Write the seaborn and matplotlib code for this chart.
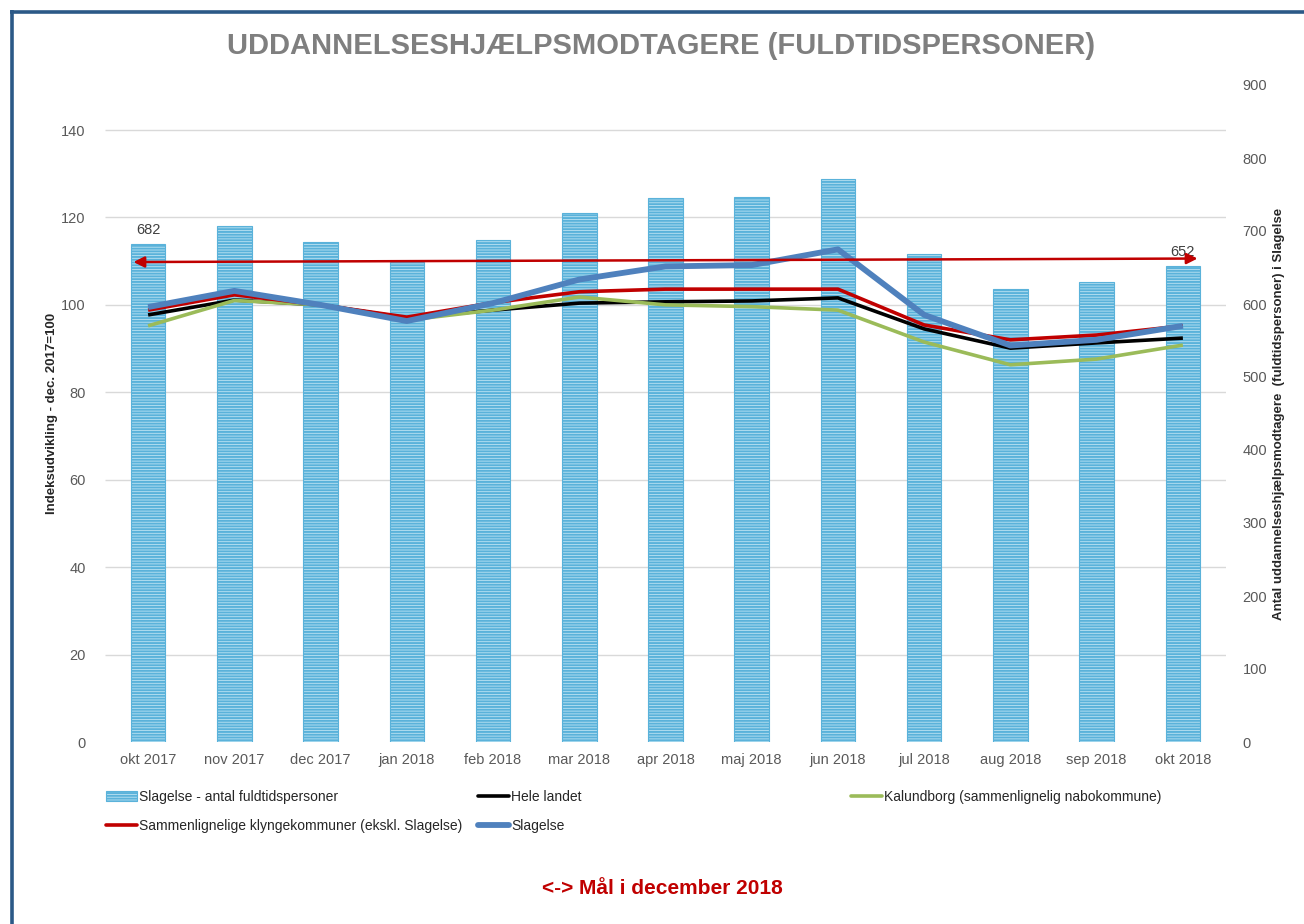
import numpy as np
import pandas as pd
import matplotlib
matplotlib.use("Agg")
import matplotlib.pyplot as plt
import matplotlib.transforms as mtransforms
from matplotlib.lines import Line2D
from matplotlib.patches import Patch
import seaborn as sns

# ---------------- data ----------------
months = ["okt 2017", "nov 2017", "dec 2017", "jan 2018", "feb 2018", "mar 2018",
          "apr 2018", "maj 2018", "jun 2018", "jul 2018", "aug 2018", "sep 2018", "okt 2018"]
slagelse_antal = [682, 707, 685, 658, 688, 725, 745, 747, 771, 669, 621, 630, 652]
hele_landet = [97.7, 101.1, 100.0, 97.0, 98.8, 100.4, 100.7, 100.9, 101.6, 94.5, 90.1, 91.3, 92.4]
kalundborg = [95.2, 101.0, 100.0, 96.5, 98.8, 101.8, 100.0, 99.6, 98.8, 91.5, 86.3, 87.6, 90.8]
klynge = [98.8, 102.3, 100.0, 97.2, 100.5, 103.0, 103.6, 103.6, 103.6, 95.4, 92.0, 93.1, 95.2]
slagelse_idx = [99.5, 103.2, 100.0, 96.3, 100.4, 105.8, 108.8, 109.1, 112.7, 97.7, 90.7, 92.0, 95.2]
left_ticks = [0, 20, 40, 60, 80, 100, 120, 140]
right_ticks = [0, 100, 200, 300, 400, 500, 600, 700, 800, 900]
goal_y = (109.8, 110.6)  # target arrow level (left axis)

title = "UDDANNELSESHJÆLPSMODTAGERE (FULDTIDSPERSONER)"
left_label = "Indeksudvikling - dec. 2017=100"
right_label = "Antal uddannelseshjælpsmodtagere  (fuldtidspersoner) i Slagelse"
names = ["Slagelse - antal fuldtidspersoner", "Hele landet",
         "Kalundborg (sammenlignelig nabokommune)",
         "Sammenlignelige klyngekommuner (ekskl. Slagelse)", "Slagelse"]
footer = "<-> Mål i december 2018"

# ---------------- style ----------------
sns.set_theme(style="white")
plt.rcParams['font.family'] = ['Liberation Sans', 'DejaVu Sans']
plt.rcParams['hatch.linewidth'] = 1.4

GRAY = "#595959"
C_BLACK = "#000000"
C_GREEN = "#9BBB59"
C_RED = "#C00000"
C_BLUE = "#4F81BD"

fig = plt.figure(figsize=(13.04, 9.24), dpi=100)
fig.patch.set_facecolor("white")

# frame lines (top + left)
fig.add_artist(Line2D([10 / 1304, 1.0], [1 - 11.5 / 924] * 2, transform=fig.transFigure,
                      color="#2B5987", lw=2.6, solid_capstyle="butt"))
fig.add_artist(Line2D([11.5 / 1304] * 2, [0.0, 1 - 10 / 924], transform=fig.transFigure,
                      color="#2B5987", lw=2.6, solid_capstyle="butt"))

ax = fig.add_axes([105 / 1304, 1 - 742 / 924, (1226 - 105) / 1304, (742 - 85) / 924])
axb = ax.twinx()
ax.set_zorder(axb.get_zorder() + 1)
ax.patch.set_visible(False)

x = np.arange(len(months))

# bars (right axis)
df_bar = pd.DataFrame({"month": months, "antal": slagelse_antal})
sns.barplot(data=df_bar, x="month", y="antal", ax=axb, width=0.4, color="#BCE3F3",
            saturation=1, zorder=2)
for p in axb.patches:
    p.set_hatch("------")
    p.set_edgecolor("#5AB2DA")
    p.set_linewidth(0.8)
bar_labels = [f"{v:.0f}" if i in (0, len(slagelse_antal) - 1) else ""
              for i, v in enumerate(slagelse_antal)]
axb.bar_label(axb.containers[0], labels=bar_labels, padding=5, fontsize=10.5,
              color="#404040")
axb.set_ylim(0, 900)
axb.set_yticks(right_ticks)
axb.set_ylabel(right_label, fontsize=9.5, fontweight="bold", color="#262626", labelpad=4)
axb.yaxis.set_label_position("right")

# gridlines from left-axis ticks, drawn behind bars
trans = mtransforms.blended_transform_factory(axb.transAxes, ax.transData)
axb.hlines(left_ticks[1:], 0, 1, transform=trans, color="#D9D9D9", lw=1.0, zorder=0)

# lines (left axis)
series = [(hele_landet, C_BLACK, 2.6), (kalundborg, C_GREEN, 2.6),
          (klynge, C_RED, 2.6), (slagelse_idx, C_BLUE, 4.2)]
for vals, col, lw in series:
    sns.lineplot(x=x, y=vals, ax=ax, color=col, lw=lw, zorder=3, legend=False)
    ax.lines[-1].set_solid_capstyle("butt")

ax.set_ylim(0, 150.3)
ax.set_yticks(left_ticks)
ax.set_xlim(-0.5, len(months) - 0.5)
axb.set_xlim(-0.5, len(months) - 0.5)
ax.set_xticks(x)
ax.set_xticklabels(months)
ax.set_ylabel(left_label, fontsize=9.5, fontweight="bold", color="#262626", labelpad=2)
ax.set_xlabel("")
axb.set_xlabel("")

# goal arrow
ax.annotate("", xy=(len(months) - 1 + 0.17, goal_y[1]), xytext=(-0.17, goal_y[0]),
            xycoords="data", textcoords="data",
            arrowprops=dict(arrowstyle="<|-|>", color=C_RED, lw=1.8,
                            mutation_scale=16, shrinkA=0, shrinkB=0), zorder=4)

for a in (ax, axb):
    for s in a.spines.values():
        s.set_visible(False)
    a.tick_params(axis="both", length=0, labelsize=10.5, labelcolor=GRAY)
ax.tick_params(axis="y", pad=14)
axb.tick_params(axis="y", pad=12)
ax.tick_params(axis="x", pad=8)
axb.tick_params(axis="x", labelbottom=False)

# title
fig.text(0.507, 1 - 46 / 924, title, ha="center", va="center", fontsize=21,
         fontweight="bold", color="#7F7F7F")

# legends (3 columns laid out like the original)
bar_handle = Patch(facecolor="#BCE3F3", edgecolor="#5AB2DA", hatch="------", lw=0.8)
h = {names[0]: bar_handle,
     names[1]: Line2D([], [], color=C_BLACK, lw=2.6),
     names[2]: Line2D([], [], color=C_GREEN, lw=2.6),
     names[3]: Line2D([], [], color=C_RED, lw=2.6),
     names[4]: Line2D([], [], color=C_BLUE, lw=4.2)}
leg_kw = dict(frameon=False, fontsize=10, handlelength=2.2, handletextpad=0.2,
              labelspacing=1.05, borderaxespad=0, borderpad=0,
              labelcolor="#262626", loc="upper left")
fig.legend([h[names[0]], h[names[3]]], [names[0], names[3]],
           bbox_to_anchor=(106 / 1304, 1 - 790 / 924), **leg_kw)
fig.legend([h[names[1]], h[names[4]]], [names[1], names[4]],
           bbox_to_anchor=(478 / 1304, 1 - 790 / 924), **leg_kw)
fig.legend([h[names[2]]], [names[2]],
           bbox_to_anchor=(851 / 1304, 1 - 790 / 924), **leg_kw)

fig.text(0.508, 1 - 888 / 924, footer, ha="center", va="center", fontsize=15,
         fontweight="bold", color=C_RED)

fig.savefig("out.png", dpi=100, facecolor="white")
